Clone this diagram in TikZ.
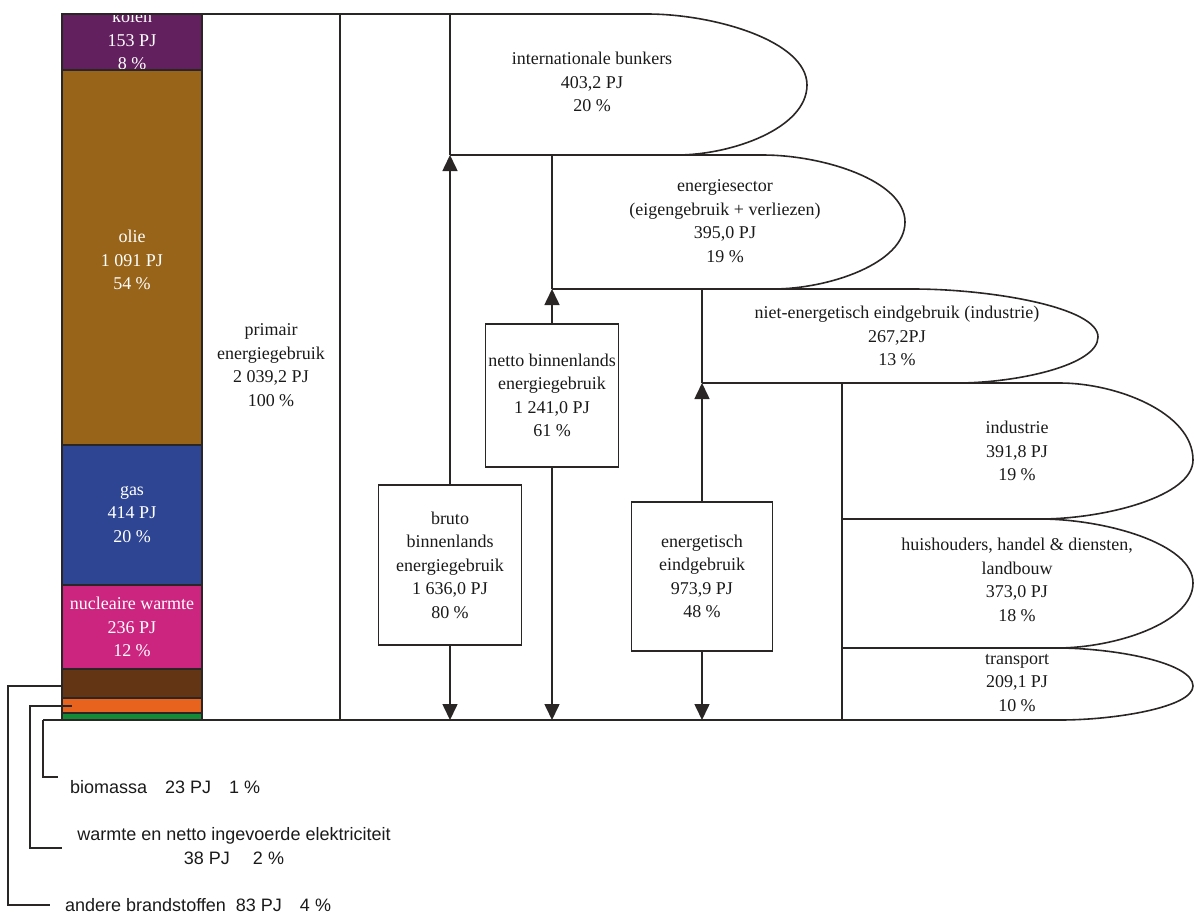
\documentclass[tikz,border=0pt]{standalone}
\usepackage{fontspec}
\setmainfont{Liberation Serif}
\newfontfamily\arialf{Liberation Sans}
\usetikzlibrary{arrows.meta}
\definecolor{kolenc}{HTML}{63205F}
\definecolor{oliec}{HTML}{976419}
\definecolor{gasc}{HTML}{2D4592}
\definecolor{nuclc}{HTML}{CB2580}
\definecolor{anderec}{HTML}{633515}
\definecolor{warmtec}{HTML}{E8631E}
\definecolor{bioc}{HTML}{128A36}
\definecolor{linec}{HTML}{2A2626}
\definecolor{textc}{HTML}{1A1A1A}
\tikzset{
  ln/.style={draw=linec, line width=1.6pt},
  arr/.style={ln, -{Triangle[width=15pt,length=16pt]}},
  lbl/.style={align=center, font=\fontsize{18}{23.5}\selectfont, text=textc, inner sep=0pt},
  barlbl/.style={lbl, text=white},
  boxn/.style={ln, fill=white, lbl},
  sanslbl/.style={font=\arialf\fontsize{18}{23.5}\selectfont, text=textc, inner sep=0pt, align=center}
}
% xl, ytop, ybot, xa, xm, ym, xb
\newcommand\flowtongue[7]{%
  \draw[ln] (#1,#2) -- (#4,#2)
    .. controls ({#4+0.42*(#5-#4)},#2) and (#5,{#6-0.62*(#6-#2)}) .. (#5,#6)
    .. controls (#5,{#6+0.62*(#3-#6)}) and ({#7+0.42*(#5-#7)},#3) .. (#7,#3)
    -- (#1,#3);}
\begin{document}
\begin{tikzpicture}[x=1pt,y=-1pt]
\useasboundingbox (0,0) rectangle (1195,914);
% stacked bar
\fill[kolenc] (62,14) rectangle (202,70);
\fill[oliec] (62,70) rectangle (202,445);
\fill[gasc] (62,445) rectangle (202,585);
\fill[nuclc] (62,585) rectangle (202,669);
\fill[anderec] (62,669) rectangle (202,698);
\fill[warmtec] (62,698) rectangle (202,713);
\fill[bioc] (62,713) rectangle (202,720);
\node[barlbl] (kolen) at (132,40) {kolen\\153 PJ\\8 \%};
\node[barlbl] (olie) at (132,260) {olie\\1 091 PJ\\54 \%};
\node[barlbl] (gas) at (132,514) {gas\\414 PJ\\20 \%};
\node[barlbl] (nucl) at (132,627) {nucleaire warmte\\236 PJ\\12 \%};
\draw[ln] (62,14) rectangle (202,720);
\foreach \yy in {70,445,585,669,698,713} \draw[ln, line width=1.2pt] (62,\yy) -- (202,\yy);
% main frame lines
\draw[ln] (202,14) -- (450,14);
\draw[ln] (43,720) -- (842,720);
\draw[ln] (340,14) -- (340,720);
\node[lbl] (primair) at (271,365) {primair\\energiegebruik\\2 039,2 PJ\\100 \%};
% tongues
\flowtongue{450}{14}{155}{647}{807}{85}{677}
\flowtongue{552}{155}{289}{763}{905}{222}{773}
\flowtongue{702}{289}{383}{913}{1098}{337}{957}
\flowtongue{842}{383}{519}{1060}{1193}{460}{1040}
\flowtongue{842}{519}{648}{1040}{1193}{583}{1057}
\flowtongue{842}{648}{720}{1057}{1193}{686}{1060}
\draw[ln] (450,14) -- (450,155);
\draw[ln] (552,155) -- (552,289);
\draw[ln] (702,289) -- (702,383);
\draw[ln] (842,383) -- (842,720);
\node[lbl] (bunkers) at (592,82) {internationale bunkers\\403,2 PJ\\20 \%};
\node[lbl] (esector) at (725,221) {energiesector\\(eigengebruik + verliezen)\\395,0 PJ\\19 \%};
\node[lbl] (niet) at (897,336) {niet-energetisch eindgebruik (industrie)\\267,2PJ\\13 \%};
\node[lbl] (industrie) at (1017,451) {industrie\\391,8 PJ\\19 \%};
\node[lbl] (huish) at (1017,580) {huishouders, handel \& diensten,\\landbouw\\373,0 PJ\\18 \%};
\node[lbl] (transport) at (1017,683) {transport\\209,1 PJ\\10 \%};
% coordinates on the lines
\coordinate (bunkbase) at (450,155);
\coordinate (esecbase) at (552,289);
\coordinate (nietbase) at (702,383);
\coordinate (brutobot) at (450,720);
\coordinate (nettobot) at (552,720);
\coordinate (energbot) at (702,720);
% boxes
\node[boxn, minimum width=143pt, minimum height=160pt] (bruto) at (450,565) {bruto\\binnenlands\\energiegebruik\\1 636,0 PJ\\80 \%};
\node[boxn, minimum width=133pt, minimum height=143pt] (netto) at (552,395.5) {netto binnenlands\\energiegebruik\\1 241,0 PJ\\61 \%};
\node[boxn, minimum width=141pt, minimum height=149pt] (energ) at (702,576.5) {energetisch\\eindgebruik\\973,9 PJ\\48 \%};
\draw[arr] (bruto.north) -- (bunkbase);
\draw[arr] (bruto.south) -- (brutobot);
\draw[arr] (netto.north) -- (esecbase);
\draw[arr] (netto.south) -- (nettobot);
\draw[arr] (energ.north) -- (nietbase);
\draw[arr] (energ.south) -- (energbot);
% leader lines and bottom labels
\coordinate (anderept) at (62,686);
\coordinate (warmtept) at (72,706);
\coordinate (biopt) at (43,720);
\node[sanslbl, anchor=west] (biolbl) at (70,787) {biomassa\quad 23 PJ\quad 1 \%};
\node[sanslbl] (warmtelbl) at (234,846) {warmte en netto ingevoerde elektriciteit\\38 PJ\quad\ 2 \%};
\node[sanslbl, anchor=west] (anderelbl) at (65,905) {andere brandstoffen\ \ 83 PJ\quad 4 \%};
\draw[ln, line width=1.2pt] (anderept) -- (8,686) -- (8,905) -- (50,905);
\draw[ln, line width=1.2pt] (warmtept) -- (30,706) -- (30,848) -- (62,848);
\draw[ln, line width=1.2pt] (biopt) -- (43,777) -- (58,777);
\end{tikzpicture}
\end{document}
